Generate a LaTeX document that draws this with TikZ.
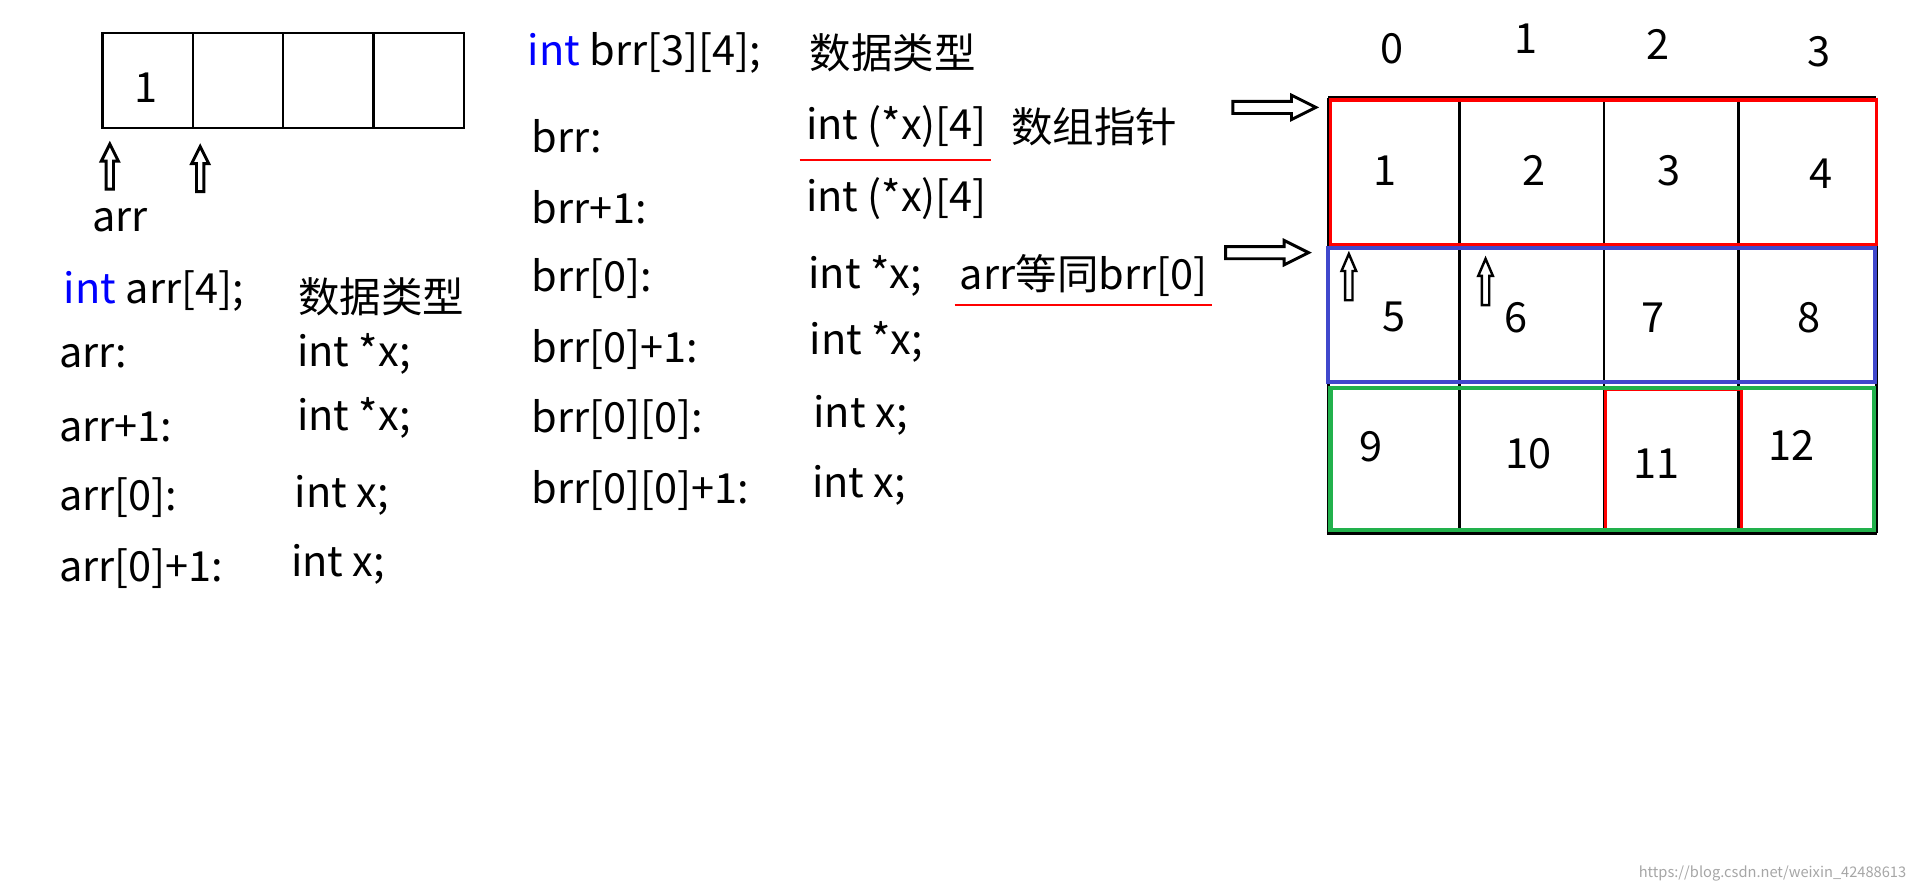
\documentclass[tikz,border=0pt]{standalone}
\usepackage{fontspec}
\setmainfont{Noto Sans CJK SC}
\begin{document}
\begin{tikzpicture}[x=0.5pt,y=-0.5pt,
  t/.style={anchor=west,inner sep=0pt,font=\fontsize{17}{20}\selectfont},
  n/.style={inner sep=0pt,font=\fontsize{17}{20}\selectfont},
  hol/.style={draw=black,line width=1.2pt,fill=white}]
\useasboundingbox (0,0) rectangle (1568,731);
% arr boxes
\foreach \i/\x in {0/84,1/158,2/232,3/306}{\draw[line width=1pt] (\x,27) rectangle ++(74,78);}
\node[n] (a1) at (120,72) {1};
\foreach \x/\y in {90/118,164/120}{\draw[hol] (\x-3,\y+37)--(\x-3,\y+14)--(\x-7,\y+14)--(\x,\y)--(\x+7,\y+14)--(\x+3,\y+14)--(\x+3,\y+37)--cycle;}
\node[t] (arrl) at (75,180) {arr};
\node[t] (ai) at (52,238) {\textcolor{blue}{int} arr[4];};
\node[t] (adt) at (244,243) {数据类型};
\node[t] (l1) at (48,292) {arr:};
\node[t] (l2) at (48,350) {arr+1:};
\node[t] (l3) at (48,408) {arr[0]:};
\node[t] (l4) at (48,466) {arr[0]+1:};
\node[t] (r1) at (243,290) {int *x;};
\node[t] (r2) at (243,342) {int *x;};
\node[t] (r3) at (241,406) {int x;};
\node[t] (r4) at (238,462) {int x;};
% middle
\node[t] (bi) at (432,43) {\textcolor{blue}{int} brr[3][4];};
\node[t] (bdt) at (663,43) {数据类型};
\node[t] (m1) at (435,112) {brr:};
\node[t] (m2) at (435,170) {brr+1:};
\node[t] (m3) at (435,228) {brr[0]:};
\node[t] (m4) at (435,286) {brr[0]+1:};
\node[t] (m5) at (435,344) {brr[0][0]:};
\node[t] (m6) at (435,402) {brr[0][0]+1:};
\node[t] (s1) at (660,104) {int (*x)[4]};
\node[t] (s1b) at (828,104) {数组指针};
\draw[red,line width=1pt] (655,131)--(812,131);
\node[t] (s2) at (660,163) {int (*x)[4]};
\node[t] (s3) at (662,226) {int *x;};
\node[t] (s3b) at (786,226) {arr等同brr[0]};
\draw[red,line width=1pt] (782,250)--(993,250);
\node[t] (s4) at (663,280) {int *x;};
\node[t] (s5) at (666,340) {int x;};
\node[t] (s6) at (665,398) {int x;};
% right grid
\node[n] (c0) at (1140,40) {0};
\node[n] (c1) at (1250,32) {1};
\node[n] (c2) at (1358,36) {2};
\node[n] (c3) at (1490,42) {3};
\draw[line width=1.2pt] (1088,80)--(1537,80);
\draw[line width=1.5pt] (1087,437)--(1538,437);
\foreach \x in {1088,1196,1314,1424,1537}{\draw[line width=1.2pt] (\x,80)--(\x,437);}
\draw[red,line width=1.2pt] (1315,319)--(1315,436) (1427,319)--(1427,436) (1315,319)--(1427,319);
\draw[red,line width=1.3pt] (1090,82) rectangle (1537,200);
\draw[line width=1.8pt,draw={rgb,255:red,64;green,72;blue,204}] (1088,203) rectangle (1536,313);
\draw[line width=1.8pt,draw={rgb,255:red,34;green,177;blue,76}] (1090,318) rectangle (1535,434);
\node[n] (g1) at (1135,140) {1};
\node[n] (g2) at (1257,140) {2};
\node[n] (g3) at (1367,140) {3};
\node[n] (g4) at (1492,142) {4};
\node[n] (g5) at (1142,260) {5};
\node[n] (g6) at (1242,260) {6};
\node[n] (g7) at (1354,260) {7};
\node[n] (g8) at (1482,260) {8};
\node[n] (g9) at (1123,366) {9};
\node[n] (g10) at (1252,372) {10};
\node[n] (g11) at (1357,380) {11};
\node[n] (g12) at (1468,365) {12};
\foreach \x/\y in {1105/208,1217/212}{\draw[hol,line width=1pt] (\x-3,\y+38)--(\x-3,\y+14)--(\x-6,\y+14)--(\x,\y)--(\x+6,\y+14)--(\x+3,\y+14)--(\x+3,\y+38)--cycle;}
\foreach \x/\y in {1010/88,1004/207}{\draw[hol] (\x,\y-5)--(\x+48,\y-5)--(\x+48,\y-10)--(\x+68,\y)--(\x+48,\y+10)--(\x+48,\y+5)--(\x,\y+5)--cycle;}
\node[anchor=east,inner sep=0pt,text=black!35,font=\fontsize{6}{7}\selectfont] (wm) at (1562,716) {https://blog.csdn.net/weixin\_42488613};
\end{tikzpicture}
\end{document}
